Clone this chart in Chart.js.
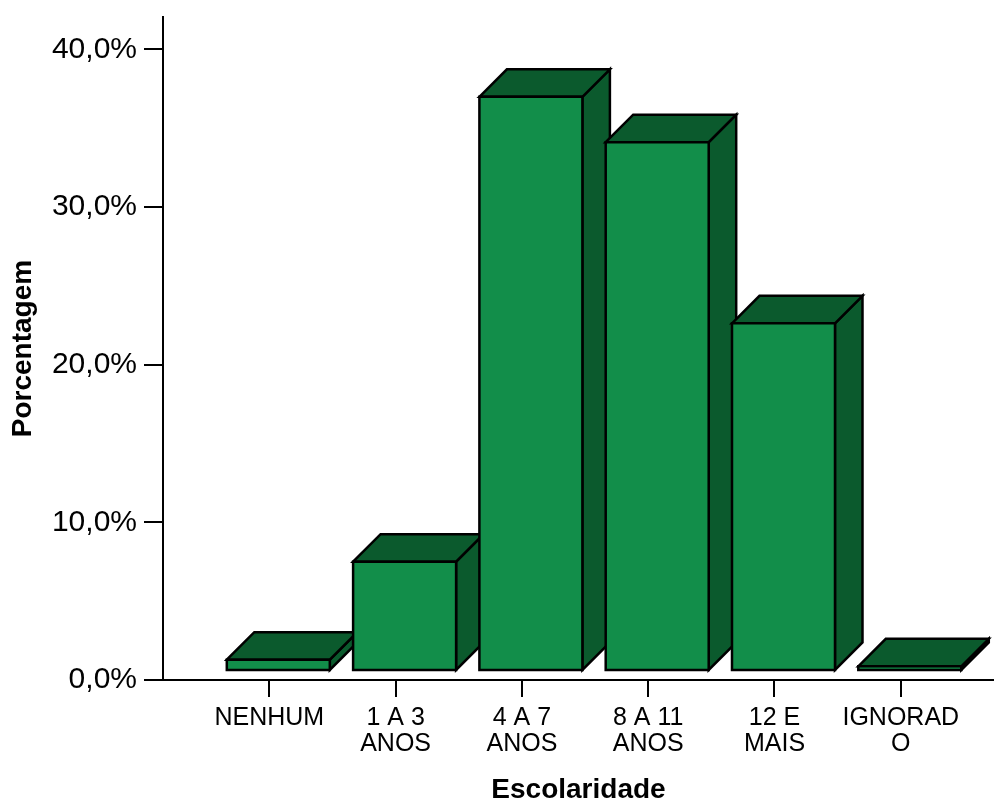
<!DOCTYPE html>
<html>
<head>
<meta charset="utf-8">
<title>Escolaridade</title>
<script src="https://cdn.jsdelivr.net/npm/chart.js@4/dist/chart.umd.min.js"></script>
<style>
  html, body { margin: 0; padding: 0; background: #ffffff; }
  canvas { display: block; }
</style>
</head>
<body>
<canvas id="chart" width="994" height="804"></canvas>
<script>
// Education level categories and their share of respondents (%)
const categories = ['NENHUM', '1 A 3 ANOS', '4 A 7 ANOS', '8 A 11 ANOS', '12 E MAIS', 'IGNORADO'];
const percentages = [0.72, 6.93, 36.42, 33.54, 22.05, 0.30];
// Tick labels as printed under each bar (wrapped)
const tickLabels = [
  ['NENHUM'],
  ['1 A 3', 'ANOS'],
  ['4 A 7', 'ANOS'],
  ['8 A 11', 'ANOS'],
  ['12 E', 'MAIS'],
  ['IGNORAD', 'O']
];
const yTickValues = [0, 10, 20, 30, 40];

const FRONT = '#128E4A';
const SHADE = '#0B5A2D';
const DEPTH = 27.5;   // 3D extrusion in px
const LIFT = 9;       // bars stand slightly above the axis line
const SHIFT_X = 9;    // front face offset from tick

const bars3d = {
  id: 'bars3d',
  beforeDatasetsDraw(chart) {
    const ctx = chart.ctx;
    const meta = chart.getDatasetMeta(0);
    ctx.save();
    ctx.lineWidth = 2.5;
    ctx.lineJoin = 'miter';
    ctx.strokeStyle = '#000000';
    meta.data.forEach((el) => {
      const p = el.getProps(['x', 'y', 'base', 'width'], true);
      const x0 = p.x - p.width / 2 + SHIFT_X;
      const x1 = x0 + p.width;
      const yT = p.y - LIFT;
      const yB = p.base - LIFT;
      const d = DEPTH;
      // side face
      ctx.beginPath();
      ctx.moveTo(x1, yT);
      ctx.lineTo(x1 + d, yT - d);
      ctx.lineTo(x1 + d, yB - d);
      ctx.lineTo(x1, yB);
      ctx.closePath();
      ctx.fillStyle = SHADE;
      ctx.fill();
      ctx.stroke();
      // top face
      ctx.beginPath();
      ctx.moveTo(x0, yT);
      ctx.lineTo(x0 + d, yT - d);
      ctx.lineTo(x1 + d, yT - d);
      ctx.lineTo(x1, yT);
      ctx.closePath();
      ctx.fillStyle = SHADE;
      ctx.fill();
      ctx.stroke();
      // front face
      ctx.beginPath();
      ctx.rect(x0, yT, p.width, yB - yT);
      ctx.fillStyle = FRONT;
      ctx.fill();
      ctx.stroke();
    });
    ctx.restore();
    return false;
  }
};

const FONT = "'Liberation Sans', Arial, Helvetica, sans-serif";

new Chart(document.getElementById('chart'), {
  type: 'bar',
  data: {
    labels: categories,
    datasets: [{
      label: 'Porcentagem',
      data: percentages.map((v, i) => ({ x: i, y: v })),
      barThickness: 103,
      backgroundColor: FRONT,
      borderWidth: 0
    }]
  },
  options: {
    responsive: false,
    animation: false,
    devicePixelRatio: 1,
    layout: { padding: { top: 17, left: 0, right: 0, bottom: 0 } },
    plugins: { legend: { display: false }, tooltip: { enabled: false } },
    scales: {
      x: {
        type: 'linear',
        position: 'bottom',
        offset: false,
        min: -0.8417,
        max: 5.738,
        afterBuildTicks(scale) {
          scale.ticks = categories.map((_, i) => ({ value: i }));
        },
        afterFit(scale) {
          scale.height = 124;
          scale.paddingLeft = 0;
          scale.paddingRight = 0;
        },
        ticks: {
          autoSkip: false,
          maxRotation: 0,
          minRotation: 0,
          padding: 8,
          color: '#000000',
          font: { family: FONT, size: 25, lineHeight: 1.04 },
          callback: (v) => tickLabels[v] || ''
        },
        grid: {
          display: true,
          offset: false,
          drawOnChartArea: false,
          tickLength: 17,
          color: '#000000',
          lineWidth: 2
        },
        border: { display: true, color: '#000000', width: 2 },
        title: {
          display: true,
          text: 'Escolaridade',
          color: '#000000',
          font: { family: FONT, size: 28, weight: 'bold', lineHeight: 1 },
          padding: { top: 0, bottom: 0 }
        }
      },
      y: {
        min: 0,
        max: 42.05,
        afterBuildTicks(scale) {
          scale.ticks = yTickValues.map((v) => ({ value: v }));
        },
        afterFit(scale) {
          scale.width = 163;
          scale.paddingTop = 0;
          scale.paddingBottom = 0;
        },
        ticks: {
          padding: 7,
          color: '#000000',
          font: { family: FONT, size: 30 },
          callback: (v) => v.toFixed(1).replace('.', ',') + '%'
        },
        grid: {
          display: true,
          drawOnChartArea: false,
          tickLength: 19,
          color: '#000000',
          lineWidth: 2
        },
        border: { display: true, color: '#000000', width: 2 },
        title: {
          display: true,
          text: 'Porcentagem',
          color: '#000000',
          font: { family: FONT, size: 28, weight: 'bold', lineHeight: 1 },
          padding: { top: 9, bottom: 0 }
        }
      }
    }
  },
  plugins: [bars3d]
});
</script>
</body>
</html>
